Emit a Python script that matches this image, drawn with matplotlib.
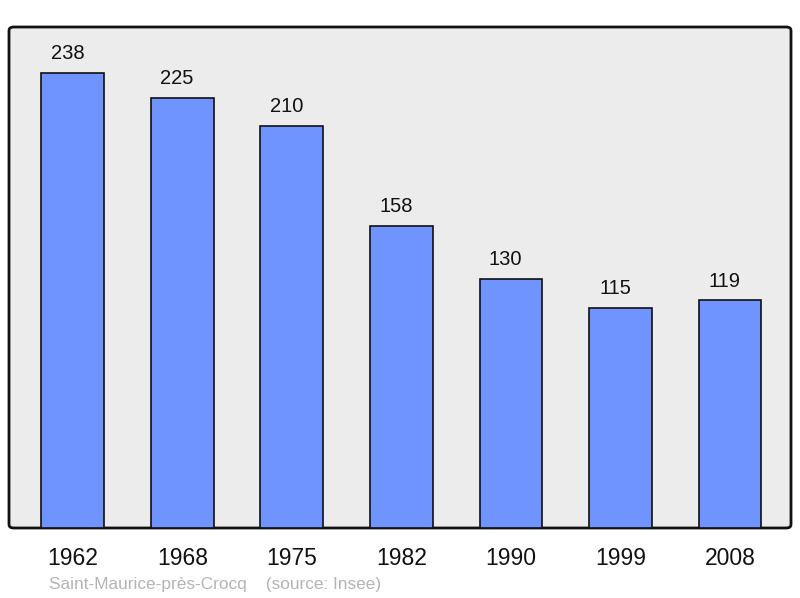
import matplotlib.pyplot as plt
from matplotlib.patches import FancyBboxPatch

years = ["1962", "1968", "1975", "1982", "1990", "1999", "2008"]
population = [238, 225, 210, 158, 130, 115, 119]
caption = "Saint-Maurice-près-Crocq    (source: Insee)"

plt.rcParams['font.family'] = ['Liberation Sans', 'DejaVu Sans']

fig = plt.figure(figsize=(8, 5.98), dpi=100)
ax = fig.add_axes([9 / 800, 70 / 598, 782 / 800, 501 / 598])
ax.set_facecolor('none')

# rounded frame with grey background, drawn below the axes
frame = FancyBboxPatch((9 / 800, 70 / 598), 782 / 800, 501 / 598,
                       boxstyle="round,pad=0,rounding_size=0.006",
                       transform=fig.transFigure, facecolor='#ececec',
                       edgecolor='#111111', linewidth=2, zorder=-1)
fig.patches.append(frame)

xs = list(range(len(years)))
ax.bar(xs, population, width=0.575, color='#7094ff', edgecolor='#111111',
       linewidth=1.2, zorder=2)
for x, v in zip(xs, population):
    ax.annotate(str(v), (x, v), xytext=(-4, 14), textcoords='offset points',
                ha='center', va='center', fontsize=14.5, color='#111111')

ax.set_xlim(-0.584, 6.557)
ax.set_ylim(0, 262)
ax.set_yticks([])
ax.set_xticks(xs)
ax.set_xticklabels(years, fontsize=16.5, color='#111111')
ax.tick_params(axis='x', length=0, pad=14)
for s in ax.spines.values():
    s.set_visible(False)

fig.text(49 / 800, 1 - 584 / 598, caption, fontsize=12.4, color='#b4b4b4', va='center')

fig.savefig('out.png', dpi=100)
